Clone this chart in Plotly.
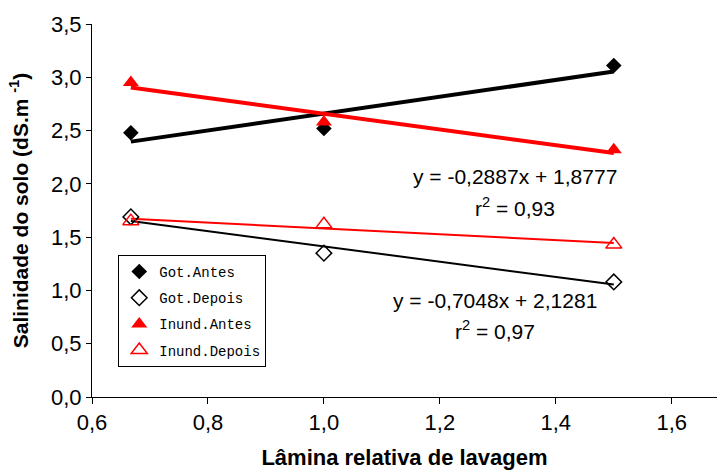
import numpy as np
import plotly.graph_objects as go

x_vals = [0.667, 1.0, 1.5]
got_antes = [2.48, 2.52, 3.11]
got_depois = [1.69, 1.35, 1.08]
inund_antes = [2.95, 2.58, 2.32]
inund_depois = [1.65, 1.62, 1.43]

series = [
    ("Got.Antes", got_antes, "diamond", "black", 4),
    ("Got.Depois", got_depois, "diamond-open", "black", 2),
    ("Inund.Antes", inund_antes, "triangle-up", "red", 4),
    ("Inund.Depois", inund_depois, "triangle-up-open", "red", 2),
]

fig = go.Figure()
xs = np.array(x_vals)
for name, ys, sym, col, lw in series:
    m, b = np.polyfit(xs, np.array(ys), 1)
    xl = [xs.min(), xs.max()]
    fig.add_trace(go.Scatter(x=xl, y=[m * v + b for v in xl], mode="lines",
                             line=dict(color=col, width=lw), showlegend=False,
                             hoverinfo="skip"))
for name, ys, sym, col, lw in series:
    size = 12 if "diamond" in sym else 14
    fig.add_trace(go.Scatter(x=x_vals, y=ys, mode="markers", name=name, legendgroup=name,
                             marker=dict(symbol=sym, size=size, color=col,
                                         line=dict(color=col, width=1.5 if "open" in sym else 0))))

annots = [
    ("y = -0,2887x + 1,8777", 1.329, 2.07),
    ("r<sup>2</sup> = 0,93", 1.329, 1.78),
    ("y = -0,7048x + 2,1281", 1.295, 0.91),
    ("r<sup>2</sup> = 0,97", 1.295, 0.63),
]
for t, ax, ay in annots:
    fig.add_annotation(x=ax, y=ay, text=t, showarrow=False,
                       font=dict(family="Liberation Sans, Arial", size=21, color="black"))

fig.update_layout(
    width=717, height=470,
    margin=dict(l=92, r=0, t=24, b=73),
    paper_bgcolor="white", plot_bgcolor="white",
    separators=", ",
    font=dict(family="Liberation Sans, Arial", size=22, color="black"),
    showlegend=True,
    legend=dict(x=0.042, y=0.381, xanchor="left", yanchor="top",
                bordercolor="black", borderwidth=1, bgcolor="white",
                tracegroupgap=5,
                font=dict(family="Liberation Mono", size=14, color="black")),
    xaxis=dict(range=[0.6, 1.678], dtick=0.2, tick0=0.6, tickformat=".1f",
               showgrid=False, zeroline=False, showline=True, linecolor="black",
               linewidth=1, ticks="outside", ticklen=6, tickcolor="black",
               title=dict(text="<b>Lâmina relativa de lavagem</b>", standoff=20,
                          font=dict(size=22))),
    yaxis=dict(range=[0, 3.5], dtick=0.5, tickformat=".1f",
               showgrid=False, zeroline=False, showline=True, linecolor="black",
               linewidth=1, ticks="outside", ticklen=5, tickcolor="black",
               title=dict(text="<b>Salinidade do solo (dS.m <sup>-1</sup>)</b>", standoff=16,
                          font=dict(size=21))),
)

fig.write_html("out.html")
